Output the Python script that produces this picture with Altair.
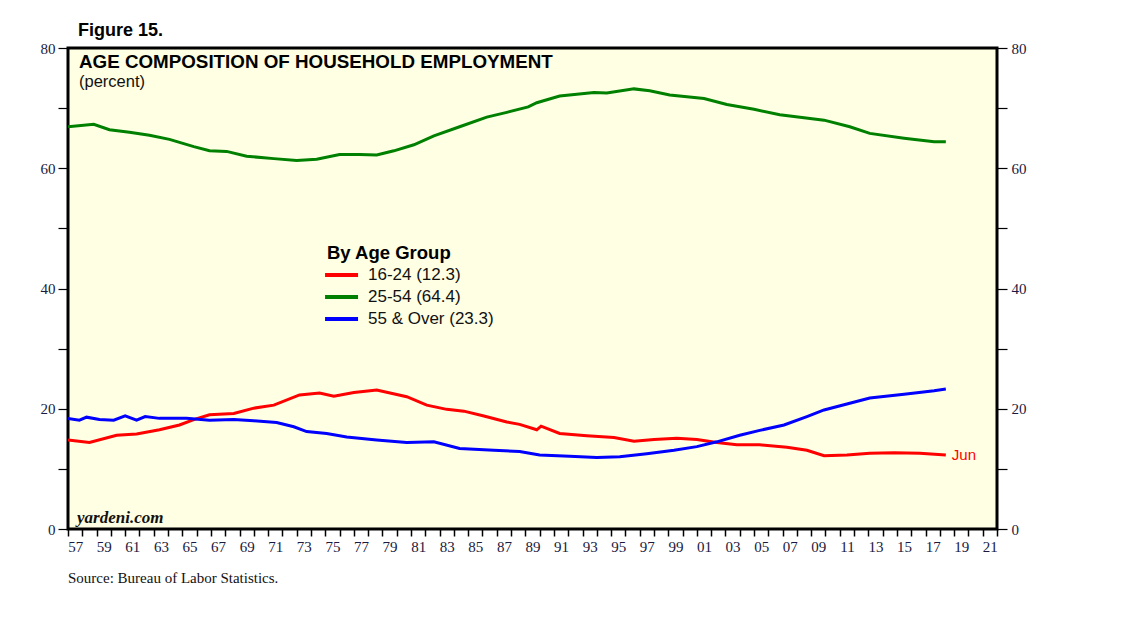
import altair as alt
import pandas as pd

# ---- data ----
labels = ["16-24 (12.3)", "25-54 (64.4)", "55 & Over (23.3)"]
colors = ["#FF0000", "#008000", "#0000FF"]

red_years = [1957.0, 1958.5, 1960.4, 1961.8, 1963.4, 1964.8, 1965.8, 1966.9, 1968.6, 1970.0,
             1971.4, 1973.2, 1974.6, 1975.6, 1977.0, 1978.6, 1980.7, 1982.1, 1983.5, 1984.7,
             1986.1, 1987.7, 1988.6, 1989.8, 1990.1, 1991.4, 1993.3, 1995.2, 1996.6, 1998.0,
             1999.6, 2001.0, 2002.4, 2003.8, 2005.4, 2007.3, 2008.7, 2009.9, 2011.5, 2013.1,
             2014.8, 2016.6, 2018.42]
red_vals = [14.8, 14.4, 15.6, 15.8, 16.5, 17.3, 18.2, 19.0, 19.2, 20.1,
            20.6, 22.3, 22.6, 22.1, 22.7, 23.1, 22.0, 20.6, 19.9, 19.6,
            18.8, 17.8, 17.4, 16.5, 17.1, 15.9, 15.5, 15.2, 14.6, 14.9,
            15.1, 14.9, 14.4, 14.0, 14.0, 13.6, 13.1, 12.2, 12.3, 12.6,
            12.7, 12.6, 12.3]

green_years = [1957.0, 1958.8, 1959.9, 1961.3, 1962.7, 1964.1, 1965.8, 1966.9, 1968.1, 1969.5,
               1971.4, 1973.0, 1974.4, 1976.0, 1977.4, 1978.6, 1979.8, 1981.2, 1982.6, 1984.4,
               1986.3, 1987.7, 1989.2, 1989.8, 1991.4, 1993.8, 1994.7, 1996.6, 1997.7, 1999.1,
               2001.5, 2003.1, 2005.0, 2006.8, 2008.5, 2009.9, 2011.7, 2013.1, 2015.5, 2017.6,
               2018.42]
green_vals = [66.9, 67.3, 66.4, 66.0, 65.5, 64.8, 63.6, 62.9, 62.8, 62.0,
              61.6, 61.3, 61.5, 62.3, 62.3, 62.2, 62.9, 63.9, 65.4, 66.9,
              68.5, 69.3, 70.2, 70.9, 72.0, 72.6, 72.5, 73.2, 72.9, 72.2,
              71.6, 70.6, 69.8, 68.9, 68.4, 68.0, 66.9, 65.8, 65.0, 64.4,
              64.4]

blue_years = [1957.0, 1957.8, 1958.3, 1959.2, 1960.2, 1961.0, 1961.8, 1962.4, 1963.4, 1965.3,
              1966.9, 1968.6, 1970.0, 1971.6, 1972.8, 1973.7, 1975.1, 1976.5, 1978.6, 1980.7,
              1982.6, 1984.4, 1986.8, 1988.6, 1990.0, 1992.1, 1994.0, 1995.6, 1997.5, 1999.4,
              2001.0, 2002.4, 2004.0, 2005.4, 2007.1, 2008.7, 2009.9, 2011.5, 2013.1, 2015.5,
              2017.6, 2018.42]
blue_vals = [18.4, 18.1, 18.6, 18.2, 18.1, 18.8, 18.1, 18.7, 18.4, 18.4,
             18.1, 18.2, 18.0, 17.7, 17.0, 16.2, 15.9, 15.3, 14.8, 14.4,
             14.5, 13.4, 13.1, 12.9, 12.3, 12.1, 11.9, 12.0, 12.5, 13.1,
             13.7, 14.5, 15.6, 16.4, 17.3, 18.7, 19.8, 20.8, 21.8, 22.4,
             23.0, 23.3]

year_ticks = list(range(1957, 2023))
year_labels = list(range(1957, 2022, 2))
y_ticks = list(range(0, 81, 10))

rows = []
for lab, ys, vs in [(labels[0], red_years, red_vals),
                    (labels[1], green_years, green_vals),
                    (labels[2], blue_years, blue_vals)]:
    for yr, v in zip(ys, vs):
        rows.append({"year": yr, "value": v, "series": lab})
df = pd.DataFrame(rows)

W, H = 929, 481
SANS = "Liberation Sans"
SERIF = "Liberation Serif"
LBL = "#1a1a40"

xscale = alt.Scale(domain=[1957, 2022], nice=False, zero=False)
yscale = alt.Scale(domain=[0, 80], nice=False, zero=True)

lines = alt.Chart(df).mark_line(strokeWidth=3, clip=True).encode(
    x=alt.X("year:Q", scale=xscale,
            axis=alt.Axis(values=year_ticks, orient="bottom", labels=False, tickSize=7,
                          tickWidth=1.5, tickColor="black", domain=False, grid=False,
                          title=None)),
    y=alt.Y("value:Q", scale=yscale,
            axis=alt.Axis(values=y_ticks, orient="left", tickSize=10, tickWidth=1.2,
                          tickColor="black", domain=False, grid=False, title=None,
                          labelExpr="datum.value % 20 == 0 ? datum.label : ''",
                          labelFont=SERIF, labelFontSize=15, labelColor=LBL, labelPadding=3)),
    color=alt.Color("series:N", scale=alt.Scale(domain=labels, range=colors),
                    legend=alt.Legend(orient="none", legendX=259, legendY=196,
                                      title="By Age Group", titleFont=SANS, titleFontSize=18.5,
                                      titleFontWeight="bold", titleColor="black", titlePadding=4,
                                      labelFont=SANS, labelFontSize=17, labelColor="#111111",
                                      symbolType="M-1.9,0H4.1", symbolSize=121,
                                      symbolStrokeWidth=4, labelOffset=24, rowPadding=4,
                                      padding=0)),
    detail="series:N",
)

axes2 = alt.Chart(df).mark_line(opacity=0).encode(
    x=alt.X("year:Q", scale=xscale,
            axis=alt.Axis(values=year_labels, orient="bottom", ticks=False, domain=False,
                          grid=False, title=None,
                          labelExpr="substring(toString(datum.value), 2, 4)",
                          labelOffset=7.15, labelPadding=10, labelFont=SERIF,
                          labelFontSize=15, labelColor=LBL, labelFlush=False,
                          labelOverlap=False)),
    y=alt.Y("value:Q", scale=yscale,
            axis=alt.Axis(values=y_ticks, orient="right", tickSize=10, tickWidth=1.2,
                          tickColor="black", domain=False, grid=False, title=None,
                          labelExpr="datum.value % 20 == 0 ? datum.label : ''",
                          labelFont=SERIF, labelFontSize=15, labelColor=LBL, labelPadding=4)),
    detail="series:N",
)

jun_df = pd.DataFrame({"year": [red_years[-1]], "value": [red_vals[-1]], "t": ["Jun"]})
jun = alt.Chart(jun_df).mark_text(align="left", baseline="middle", dx=6, font=SANS,
                                  fontSize=15, color="#FF0000").encode(
    x=alt.X("year:Q", scale=xscale, axis=None),
    y=alt.Y("value:Q", scale=yscale, axis=None),
    text="t:N")


def txt(s, x, y, **kw):
    return alt.Chart(pd.DataFrame({"t": [s]})).mark_text(
        align="left", baseline="alphabetic", **kw).encode(
        x=alt.value(x), y=alt.value(y), text="t:N")


fig = txt("Figure 15.", 10, -12, font=SANS, fontSize=18, fontWeight="bold", color="black")
title = txt("AGE COMPOSITION OF HOUSEHOLD EMPLOYMENT", 11, 20, font=SANS, fontSize=18.8,
            fontWeight="bold", color="black")
sub = txt("(percent)", 11, 39, font=SANS, fontSize=16.5, color="#111111")
yard = txt("yardeni.com", 9, 475, font=SERIF, fontSize=17, fontStyle="italic",
           fontWeight="bold", color="#111111")
src = txt("Source: Bureau of Labor Statistics.", 0, 535, font=SERIF, fontSize=15, color="#111111")

chart = alt.layer(lines, axes2, jun, fig, title, sub, yard, src).resolve_axis(
    x="independent", y="independent"
).properties(
    width=W, height=H,
    autosize=alt.AutoSizeParams(type="none"),
    padding={"left": 60, "top": 40, "right": 130, "bottom": 92},
    background="white",
).configure_view(
    fill="#FFFFE3", stroke="black", strokeWidth=3
)

chart.save("out.html", embed_options={"renderer": "svg", "actions": False})
